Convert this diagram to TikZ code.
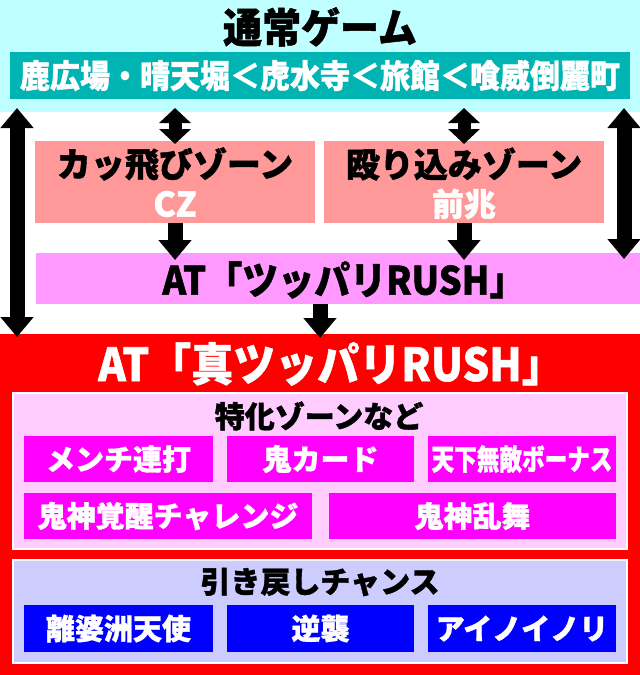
\documentclass[tikz,border=0pt]{standalone}
\usepackage{fontspec}
\newfontfamily\jp{Noto Sans CJK JP}[BoldFeatures={FakeBold=1.2}]
\usetikzlibrary{arrows.meta}
\definecolor{cyanbg}{RGB}{192,255,255}
\definecolor{tealbar}{RGB}{0,180,180}
\definecolor{salmon}{RGB}{255,153,153}
\definecolor{pinkat}{RGB}{255,153,255}
\definecolor{pinkpanel}{RGB}{255,204,255}
\definecolor{lavpanel}{RGB}{204,204,255}
\definecolor{magbox}{RGB}{255,0,255}
\definecolor{bluebox}{RGB}{0,0,255}
\definecolor{redbg}{RGB}{255,0,0}
\newcommand\jpsz[1]{\jp\bfseries\fontsize{#1}{#1}\selectfont}
\tikzset{
  rect/.style={anchor=north west, inner sep=0pt, outer sep=0pt, draw=none},
  txt/.style={inner sep=0pt, outer sep=0pt},
  bigarrow/.style={line width=15pt, -{Triangle[width=32pt,length=20pt]}},
  dblarrow/.style={line width=15pt, {Triangle[width=32pt,length=20pt]}-{Triangle[width=32pt,length=20pt]}},
  smalldbl/.style={line width=13pt, {Triangle[width=31pt,length=15pt]}-{Triangle[width=31pt,length=15pt]}},
  panel/.style={rect, draw=white, line width=2pt},
}
\begin{document}
\begin{tikzpicture}[x=1pt,y=-1pt]
\useasboundingbox (0,0) rectangle (640,675);
% top region
\node[rect, fill=cyanbg, minimum width=640pt, minimum height=112pt] (top) at (0,0) {};
\node[txt, font=\jpsz{39}, yscale=1.05] (title) at (320,27) {通常ゲーム};
\node[rect, fill=tealbar, minimum width=620pt, minimum height=47pt] (stages) at (10,52) {};
\node[txt, font=\jpsz{30}, text=white, yscale=1.08] (stagestxt) at (stages.center) {鹿広場・晴天堀＜虎水寺＜旅館＜喰威倒麗町};
% zones
\node[rect, fill=salmon, minimum width=280pt, minimum height=82pt] (czbox) at (35,141) {};
\node[txt, font=\jpsz{34}] (cztitle) at (175,164) {カッ飛びゾーン};
\node[txt, font=\jpsz{34}, text=white] (czsub) at (175,204) {CZ};
\node[rect, fill=salmon, minimum width=280pt, minimum height=82pt] (zenbox) at (324,141) {};
\node[txt, font=\jpsz{34}] (zentitle) at (464,164) {殴り込みゾーン};
\node[txt, font=\jpsz{32}, text=white] (zensub) at (464,204) {前兆};
% AT
\node[rect, fill=pinkat, minimum width=604pt, minimum height=51pt] (at) at (36,253) {};
\node[txt, font=\jpsz{36}, yscale=1.08] (attxt) at (344,280) {AT「ツッパリRUSH」};
% red region
\node[rect, fill=redbg, minimum width=640pt, minimum height=341pt] (red) at (0,334) {};
\node[txt, font=\jpsz{42}, text=white, yscale=1.08] (redtitle) at (331,364) {AT「真ツッパリRUSH」};
% special zones panel
\node[panel, fill=pinkpanel, minimum width=614pt, minimum height=156pt] (toku) at (13,393) {};
\node[txt, font=\jpsz{30}] (tokutitle) at (319,416) {特化ゾーンなど};
\node[rect, fill=magbox, minimum width=189pt, minimum height=46pt] (m1) at (24,436) {};
\node[txt, font=\jpsz{29}, text=white] (m1t) at (m1.center) {メンチ連打};
\node[rect, fill=magbox, minimum width=187pt, minimum height=46pt] (m2) at (227,436) {};
\node[txt, font=\jpsz{29}, text=white] (m2t) at (m2.center) {鬼カード};
\node[rect, fill=magbox, minimum width=188pt, minimum height=46pt] (m3) at (428,436) {};
\node[txt, font=\jpsz{29}, text=white, xscale=0.78] (m3t) at (m3.center) {天下無敵ボーナス};
\node[rect, fill=magbox, minimum width=288pt, minimum height=46pt] (m4) at (24,493) {};
\node[txt, font=\jpsz{29}, text=white] (m4t) at (m4.center) {鬼神覚醒チャレンジ};
\node[rect, fill=magbox, minimum width=287pt, minimum height=46pt] (m5) at (329,493) {};
\node[txt, font=\jpsz{29}, text=white] (m5t) at (m5.center) {鬼神乱舞};
% comeback panel
\node[panel, fill=lavpanel, minimum width=614pt, minimum height=103pt] (modo) at (13,560) {};
\node[txt, font=\jpsz{30}] (modotitle) at (320,582) {引き戻しチャンス};
\node[rect, fill=bluebox, minimum width=189pt, minimum height=47pt] (b1) at (24,605) {};
\node[txt, font=\jpsz{29}, text=white] (b1t) at (b1.center) {離婆洲天使};
\node[rect, fill=bluebox, minimum width=187pt, minimum height=47pt] (b2) at (227,605) {};
\node[txt, font=\jpsz{29}, text=white] (b2t) at (b2.center) {逆襲};
\node[rect, fill=bluebox, minimum width=188pt, minimum height=47pt] (b3) at (428,605) {};
\node[txt, font=\jpsz{29}, text=white] (b3t) at (b3.center) {アイノイノリ};
% arrows
\draw[dblarrow, shorten <=-4pt, shorten >=-3pt] ([xshift=17pt]top.south west) -- ([xshift=17pt]red.north west);
\draw[dblarrow, shorten <=-4pt, shorten >=-6pt] ([xshift=-16pt]top.south east) -- ([xshift=-16pt]at.north east);
\draw[smalldbl, shorten <=-4pt, shorten >=-3pt] (czbox.north |- top.south) -- (czbox.north);
\draw[smalldbl, shorten <=-4pt, shorten >=-3pt] (zenbox.north |- top.south) -- (zenbox.north);
\draw[bigarrow, shorten >=-7pt] (czbox.south) -- (czbox.south |- at.north);
\draw[bigarrow, shorten >=-7pt] (zenbox.south) -- (zenbox.south |- at.north);
\draw[bigarrow, shorten >=-4pt] (red.north |- at.south) -- (red.north);
\end{tikzpicture}
\end{document}
